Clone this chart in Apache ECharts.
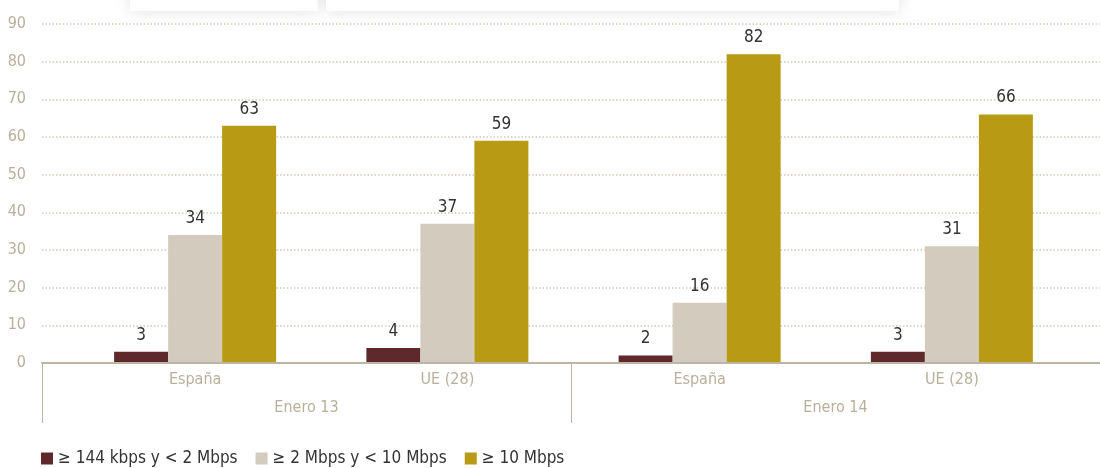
<!DOCTYPE html>
<html>
<head>
<meta charset="utf-8">
<script src="https://cdn.jsdelivr.net/npm/echarts@6/dist/echarts.min.js"></script>
<style>
html,body{margin:0;padding:0;background:#fff;}
#chart{width:1100px;height:468px;}
</style>
</head>
<body>
<div id="chart"></div>
<script>
const periods = ['Enero 13', 'Enero 14'];
const regions = ['España', 'UE (28)', 'España', 'UE (28)'];
const seriesNames = ['≥ 144 kbps y < 2 Mbps', '≥ 2 Mbps y < 10 Mbps', '≥ 10 Mbps'];
const lowSpeed = [3, 4, 2, 3];
const midSpeed = [34, 37, 16, 31];
const highSpeed = [63, 59, 82, 66];
const yTicks = [0, 10, 20, 30, 40, 50, 60, 70, 80, 90];

const colors = ['#5f282a', '#d3cbbd', '#b89a14'];
const FONT = '"DejaVu Sans Condensed", "Liberation Sans Narrow", sans-serif';
const axisColor = '#b9b09c';

const chart = echarts.init(document.getElementById('chart'));
const values = [lowSpeed, midSpeed, highSpeed];

chart.setOption({
  animation: false,
  textStyle: { fontFamily: FONT },
  graphic: [
    { type: 'rect', shape: { x: 130, y: -30, width: 188, height: 41 }, style: { fill: '#fff', shadowBlur: 16, shadowColor: 'rgba(0,0,0,0.13)' }, z: 0 },
    { type: 'rect', shape: { x: 326, y: -30, width: 573, height: 41 }, style: { fill: '#fff', shadowBlur: 16, shadowColor: 'rgba(0,0,0,0.13)' }, z: 0 }
  ],
  legend: {
    left: 36, top: 445,
    itemWidth: 12, itemHeight: 12, itemGap: 18,
    icon: 'rect',
    textStyle: { fontFamily: FONT, fontSize: 17, color: '#333' },
    data: seriesNames
  },
  grid: [
    { left: 42, right: 0, top: 24, height: 339 },
    { left: 69, right: 22, top: 24, height: 339 }
  ],
  xAxis: [
    {
      gridIndex: 0, type: 'category', data: periods,
      axisLine: { show: true, lineStyle: { color: '#bdb5a3', width: 2 } },
      axisTick: { show: true, length: 60, lineStyle: { color: '#bdb5a3', width: 1 } },
      axisLabel: { margin: 37, fontSize: 16, color: axisColor, fontFamily: FONT },
      z: 5
    },
    {
      gridIndex: 1, type: 'category', data: regions,
      axisLine: { show: false }, axisTick: { show: false },
      axisLabel: { margin: 9, fontSize: 16, color: axisColor, fontFamily: FONT }
    }
  ],
  yAxis: [
    {
      gridIndex: 0, type: 'value', min: yTicks[0], max: yTicks[yTicks.length - 1], interval: 10,
      axisLine: { show: false }, axisTick: { show: false },
      axisLabel: { margin: 16, fontSize: 16, color: axisColor, fontFamily: FONT },
      splitLine: { show: true, lineStyle: { color: '#d2cabb', width: 1.5, type: [1.5, 2] } }
    },
    {
      gridIndex: 1, type: 'value', min: yTicks[0], max: yTicks[yTicks.length - 1], interval: 10,
      show: false, splitLine: { show: false }
    }
  ],
  series: seriesNames.map((name, i) => ({
    name, type: 'bar', xAxisIndex: 1, yAxisIndex: 1,
    data: values[i],
    barWidth: 54, barGap: '0%',
    itemStyle: { color: colors[i] },
    label: { show: true, position: 'top', distance: 8, color: '#333', fontSize: 17, fontFamily: FONT },
    z: 3
  }))
});
</script>
</body>
</html>
